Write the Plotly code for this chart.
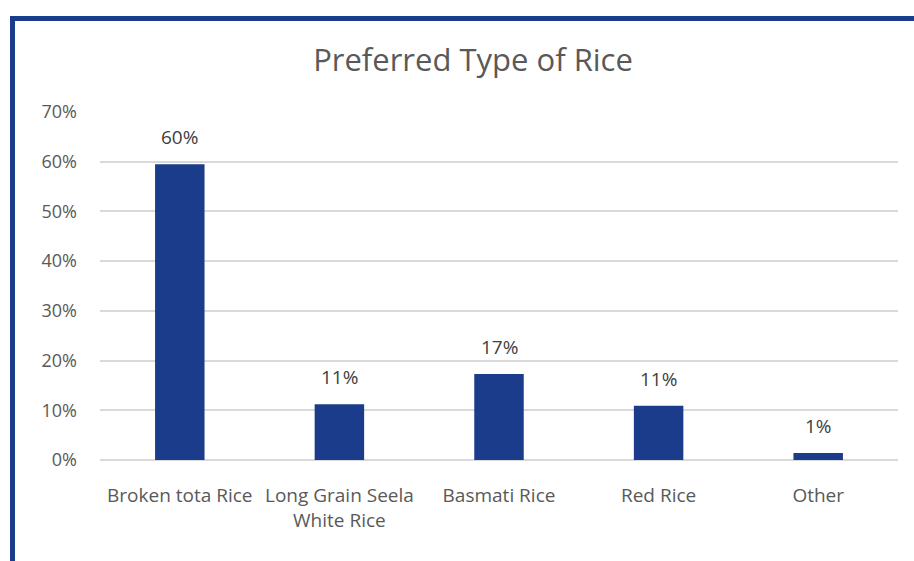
import plotly.graph_objects as go

# Survey results: preferred type of rice
categories = ["Broken tota Rice", "Long Grain Seela<br>White Rice", "Basmati Rice", "Red Rice", "Other"]
shares = [59.5, 11.2, 17.3, 10.9, 1.4]          # percent of respondents
y_ticks = [0, 10, 20, 30, 40, 50, 60, 70]
y_tick_labels = [f"{v}%" for v in y_ticks]

W, H = 914, 561
ML, MR, MT, MB = 100, 16, 112, 101
BAR = "#1b3c8a"
FONT = "'Open Sans', 'Noto Sans', sans-serif"

fig = go.Figure(
    go.Bar(
        x=categories,
        y=shares,
        width=0.31,
        marker=dict(color=BAR, line=dict(width=0)),
        hoverinfo="skip",
    )
)

# value labels above each bar
for c, v in zip(categories, shares):
    fig.add_annotation(
        x=c, y=v, text=f"{v:.0f}%", showarrow=False,
        yanchor="bottom", yshift=12,
        font=dict(family=FONT, size=19, color="#404040"),
    )

# pixel -> paper helpers for the frame lines
pw, ph = W - ML - MR, H - MT - MB
def px(x):
    return (x - ML) / pw
def py(y):
    return (H - MB - y) / ph

frame = dict(color=BAR, width=5)
fig.add_shape(type="line", xref="paper", yref="paper",
              x0=px(12.5), x1=px(W + 5), y0=py(18.5), y1=py(18.5), line=frame)
fig.add_shape(type="line", xref="paper", yref="paper",
              x0=px(12.5), x1=px(12.5), y0=py(16), y1=py(H + 5), line=frame)

fig.update_layout(
    width=W, height=H,
    margin=dict(l=ML, r=MR, t=MT, b=MB),
    paper_bgcolor="white", plot_bgcolor="white",
    showlegend=False,
    font=dict(family=FONT, size=19, color="#595959"),
    title=dict(
        text="Preferred Type of Rice",
        x=473 / W, xanchor="center", y=1 - 60 / H, yanchor="middle",
        font=dict(family=FONT, size=31, color="#595959"),
    ),
    xaxis=dict(
        type="category", showgrid=False, zeroline=False, showline=False,
        ticks="", ticklabelstandoff=22,
        tickfont=dict(family=FONT, size=19, color="#595959"),
    ),
    yaxis=dict(
        range=[0, 70], tickvals=y_ticks, ticktext=y_tick_labels,
        showgrid=True, gridcolor="#d9d9d9", gridwidth=2,
        zeroline=True, zerolinecolor="#d9d9d9", zerolinewidth=2,
        showline=False, ticks="", ticklabelstandoff=22,
        tickfont=dict(family=FONT, size=18, color="#595959"),
    ),
)

fig.write_html("out.html")
